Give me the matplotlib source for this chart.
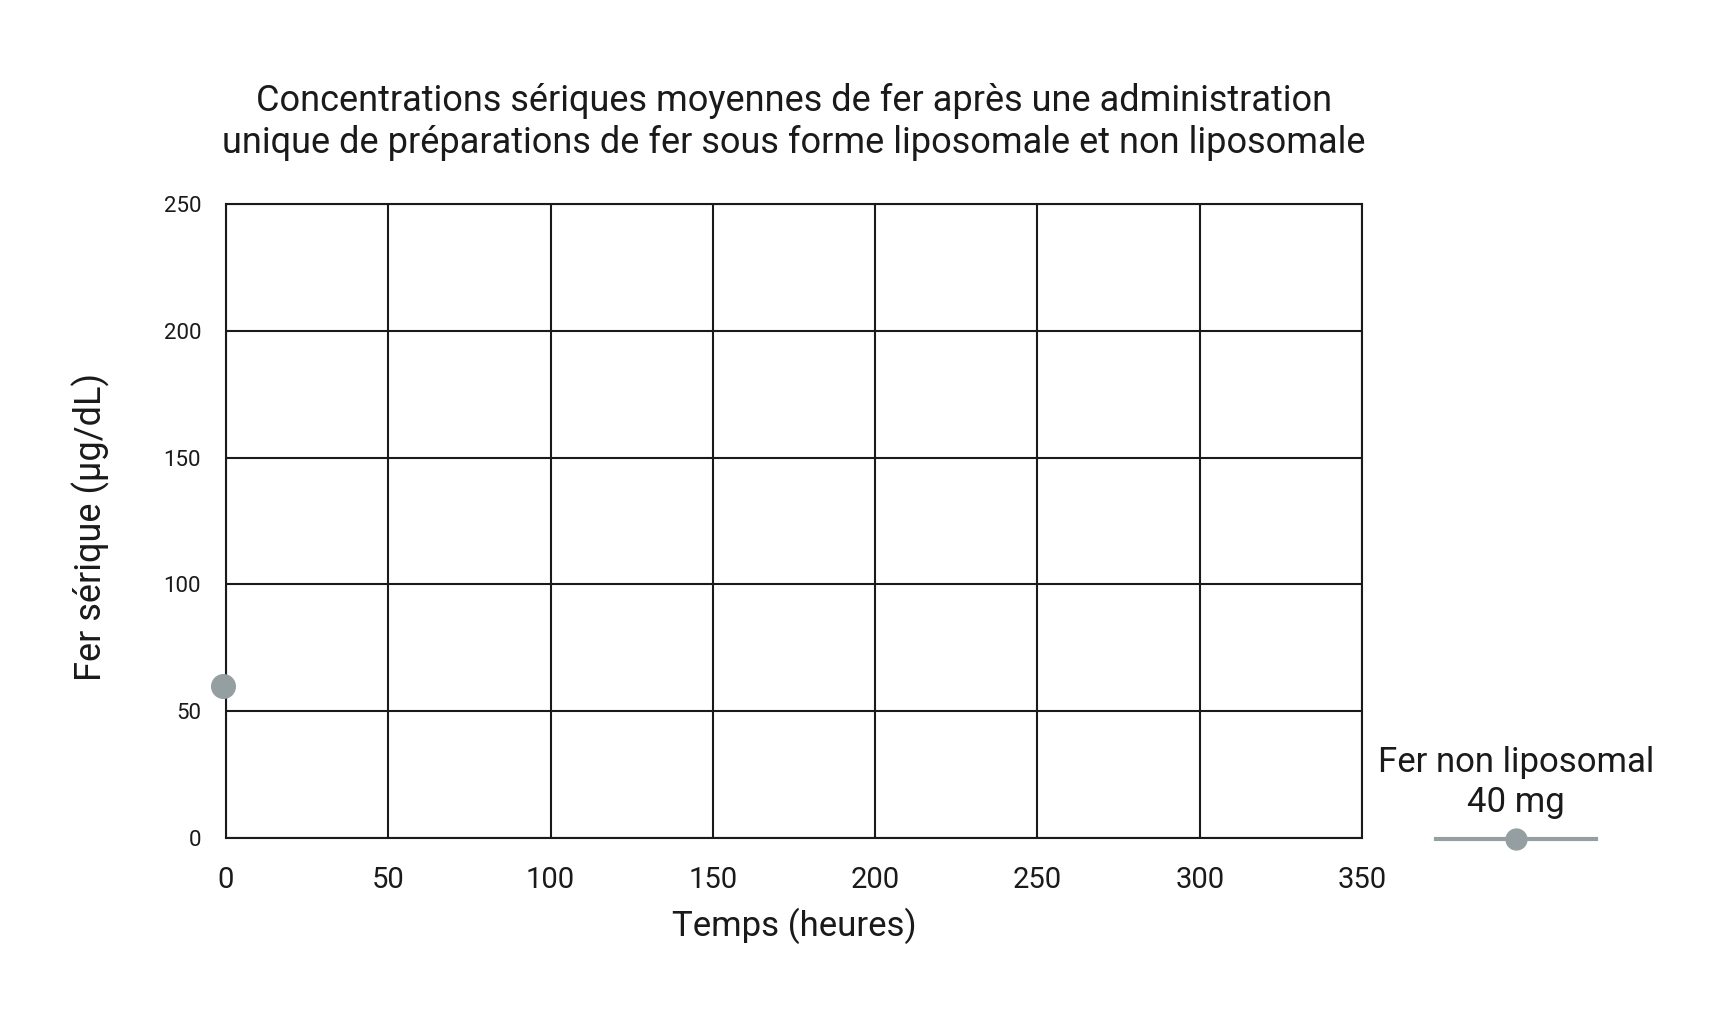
import matplotlib
matplotlib.use("Agg")
import matplotlib.pyplot as plt
from matplotlib.lines import Line2D

plt.rcParams['font.family'] = ['Roboto', 'DejaVu Sans']

# data
time_h = [-0.8]
serum_iron = [60]
series_label = "Fer non liposomal\n40 mg"
x_ticks = [0, 50, 100, 150, 200, 250, 300, 350]
y_ticks = [0, 50, 100, 150, 200, 250]
title = ("Concentrations sériques moyennes de fer après une administration\n"
         "unique de préparations de fer sous forme liposomale et non liposomale")

dot_color = '#959fa2'
ink = '#1a1a1a'

fig = plt.figure(figsize=(17.19, 10.29), dpi=100)
ax = fig.add_axes([0.1315, 0.1856, 0.6608, 0.6161])

ax.plot(time_h, serum_iron, color=dot_color, linewidth=3, marker='o',
        markersize=17, clip_on=False, zorder=5)

ax.set_xlim(0, 350)
ax.set_ylim(0, 250)
ax.set_xticks(x_ticks)
ax.set_yticks(y_ticks)
ax.grid(True, color=ink, linewidth=1.5)
ax.set_axisbelow(True)
for s in ax.spines.values():
    s.set_color(ink)
    s.set_linewidth(1.5)

ax.tick_params(axis='x', length=0, pad=20, labelsize=21, labelcolor=ink)
ax.tick_params(axis='y', length=0, pad=18, labelsize=16, labelcolor=ink)

ax.set_xlabel("Temps (heures)", fontsize=25, color=ink)
ax.xaxis.set_label_coords(0.5, -0.11)
ax.set_ylabel("Fer sérique (µg/dL)", fontsize=26, color=ink)
ax.yaxis.set_label_coords(-0.1025, 0.49)

ax.set_title(title, fontsize=26, color=ink, pad=37, linespacing=1.2)

handle = Line2D([], [], color=dot_color, linewidth=3, marker='o', markersize=15)
leg = fig.legend(handles=[handle], labels=[''], title=series_label,
                 loc='center', bbox_to_anchor=(0.882, 0.2202), frameon=False,
                 fontsize=25, title_fontsize=25, handlelength=4.6,
                 handletextpad=0, borderpad=0, borderaxespad=0, labelspacing=0.2)
leg.get_title().set_color(ink)
leg.get_title().set_multialignment('center')
leg.get_title().set_linespacing(1.25)

fig.savefig("out.png", dpi=100)
